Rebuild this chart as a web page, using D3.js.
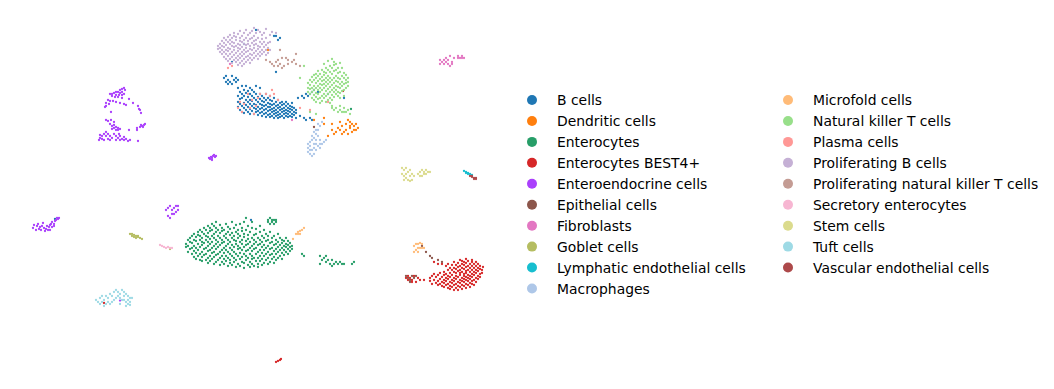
<!DOCTYPE html>
<html>
<head>
<meta charset="utf-8">
<script src="https://cdn.jsdelivr.net/npm/d3@7"></script>
<style>
    html, body { margin: 0; padding: 0; background: #fff; }
    svg { display: block; }
    text { font-family: "DejaVu Sans", sans-serif; font-size: 13.9px; fill: #000; }
</style>
</head>
<body>
<div id="chart"></div>
<script>
// categories, in legend order
const categories = ["B cells", "Dendritic cells", "Enterocytes", "Enterocytes BEST4+", "Enteroendocrine cells",
    "Epithelial cells", "Fibroblasts", "Goblet cells", "Lymphatic endothelial cells", "Macrophages",
    "Microfold cells", "Natural killer T cells", "Plasma cells", "Proliferating B cells",
    "Proliferating natural killer T cells", "Secretory enterocytes", "Stem cells", "Tuft cells",
    "Vascular endothelial cells"];
const palette = ["#1f77b4", "#ff7f0e", "#279e68", "#d62728", "#aa40fc", "#8c564b", "#e377c2", "#b5bd61", "#17becf",
    "#aec7e8", "#ffbb78", "#98df8a", "#ff9896", "#c5b0d5", "#c49c94", "#f7b6d2", "#dbdb8d", "#9edae5", "#ad494a"];

// embedding, flat umap1,umap2 lists
const bCells = [113,152,116,152,118,151,112,151,114,150,117,150,113,149,115,149,119,150,114,148,116,148,118,149,
    119,136.5,119,139,119,142,119,146,120,135,120,138,120,140.5,120,144,121,134,121,137,121,141,121,143,121,147,
    122,133.5,122,136,122,138.5,122,142,122,145,123,135,123,137.5,123,140,123,143.5,123,147,124,134,124,136.5,124,139,124,141.5,124,144.5,
    125,133,125,135.5,125,138,125,140,125,143,125,146,126,134.5,126,137,126,139.5,126,142,126,145,127,133,127,136,127,138,127,141,127,144,
    128,134,128,135.5,128,137.5,128,140,128,143,128,147,129,132.5,129,134.5,129,136.5,129,139,129,141.5,130,133.5,130,135.5,130,138,130,140.5,130,143,130,146,
    131,132,131,134,131,136,131,137.5,131,139.5,131,142,132,133,132,135,132,137,132,139,132,141,133,131.5,133,133.5,133,135.5,133,137.5,133,140,133,143,
    134,132.5,134,134.5,134,136.5,134,138.5,134,141,135,131.5,135,133,135,135,135,136.5,135,138,135,140,135,142,136,132,136,134,136,135.5,136,137.5,136,139.5,
    137,131,137,133,137,134.5,137,136,137,138,137,141,138,132,138,133.5,138,135,138,137,138,139,139,131,139,132.5,139,134,139,136,139,137.5,139,140,
    140,131.5,140,133,140,135,140,136.5,140,138.5,141,132,141,134,141,135.5,141,137.5,141,139,142,131,142,133,142,134.5,142,136,142,138,
    143,132,143,133.5,143,135,143,137,143,139,144,131.5,144,133,144,134.5,144,136,144,138,145,132,145,134,145,135.5,145,137,
    146,131.5,146,133,146,135,146,136.5,146,138.5,147,132.5,147,134,147,136,148,133.5,148,135,
    149,141,151,142,152,141,153,143,155,143,156,144,157,145,154,142,150,132,152,131,153,130,155,131,156,130,148,131,
    128,175,138,172,140,171,139,170,137,172,122,168,116,159,159,144,164,143,172,141,138,154,27.5,80.5,125.5,80];
const dendriticCells = [134,165,162,131,157,130,162,128,166,125,168,124,170,125,172,124,174,123,176,124,178,125,
    167,123,169,126,171,123,173,125,175,126,177,127,178,128,179,126,176,128,175,129,174,130,177,125,173,128,171,127,166,128,170,129,175,127,164,122];
const enterocytes = [123,81,134,80,135,81,136,80,137,80,138,80,134,79,136,79,138,79,135,78,137,78,
    93,66.5,93,68,94,64,94,67,94,70,95,65.5,95,69,95,71,96,63,96,66,96,68.5,96,72,97,61.5,97,64.5,97,67,97,70,97,73,98,60.5,98,63.5,98,66,98,69.5,98,71.5,
    99,62,99,65,99,68,99,72.5,99,74,100,60,100,63,100,66.5,100,70,100,72,100,75,101,59.5,101,61.5,101,64,101,67.5,101,69,101,71,101,74,
    102,62.5,102,65.5,102,68.5,102,73,102,76,103,60,103,63,103,66,103,70,103,72,103,75,104,58.5,104,61,104,64.5,104,67,104,69,104,71.5,104,73.5,104,77,
    105,59.5,105,62,105,65,105,68,105,70.5,105,74.5,105,76,106,60.5,106,63.5,106,66,106,69,106,72,106,75,106,78,107,58,107,61.5,107,64,107,67,107,71,107,73,107,77,
    108,59,108,62.5,108,65.5,108,68,108,70,108,74,108,76,108,79,109,60,109,63,109,66.5,109,69,109,72,109,75,110,57.5,110,61,110,64,110,67.5,110,71,110,73.5,110,77.5,
    111,59,111,62,111,65,111,68.5,111,70,111,74.5,111,76,112,58,112,60.5,112,63.5,112,66,112,69,112,72,112,75,113,59.5,113,62,113,65,113,67,113,71,113,73,113,78,
    114,57,114,61,114,64,114,68,114,70,114,74,114,76.5,115,58.5,115,60,115,63,115,66,115,69,115,72.5,115,75.5,116,57.5,116,62,116,65,116,67.5,116,71,116,73.5,116,79,
    117,59,117,61,117,64,117,66.5,117,70,117,72,117,76,118,56.5,118,60,118,63,118,68,118,69.5,118,74,118,77.5,119,58,119,62,119,65.5,119,67,119,71,119,73,119,75,
    120,57,120,60.5,120,63.5,120,66,120,69,120,72,120,78,121,59,121,61.5,121,65,121,68,121,70,121,74.5,121,76,122,56,122,58.5,122,63,122,66.5,122,71.5,122,73,122,79,
    123,60,123,62,123,64.5,123,67.5,123,69.5,123,75,124,57.5,124,61,124,65,124,68,124,70.5,124,72.5,124,77,125,56.5,125,59,125,63,125,66,125,69,125,74,
    126,58,126,60.5,126,62,126,64.5,126,67,126,71,126,76,126,79,127,57,127,61,127,65.5,127,68,127,70,127,72.5,128,59.5,128,63,128,66,128,69,128,73,128,75.5,
    129,56.5,129,58,129,61,129,64,129,67.5,129,71,130,59.5,130,62,130,65,130,68,130,70,130,74,130,77,131,57.5,131,60.5,131,63.5,131,66.5,131,69,131,72,
    132,58.5,132,62,132,65,132,67.5,132,71,132,75,133,60,133,63,133,66,133,69.5,133,73,134,58,134,61,134,64,134,67,134,70,134,72,
    135,59,135,62.5,135,65.5,135,68.5,135,74,136,60.5,136,63,136,66,136,69,136,71,137,58.5,137,61.5,137,64.5,137,67.5,137,72,138,60,138,63,138,65.5,138,68,138,70,
    139,61,139,64,139,66.5,139,69,139,73,140,62,140,65,140,67.5,140,71,141,60.5,141,63.5,141,66,141,68.5,141,70,142,62.5,142,65,142,67,142,69.5,
    143,64,143,66.5,143,68,143,71,144,63,144,65.5,144,67.5,144,69.5,145,64.5,145,66.5,145,68.5,146,65.5,146,67,
    151,63,152,62,160,62,161,60,162,61,163,59,164,60,165,58,166,60,167,58,168,59,169,58,170,59,171,58,172,58,163,62,166,57,160,58,176,58,177,59,175.5,135.5];
const enterocytesBest4 = [212,50,215,49.5,215,51,216,48,216,52,217,50,217,53,218,48.5,218,51.5,219,47.5,219,49.5,219,52.5,220,48,220,50.5,220,53.5,221,47,221,49,221,51.5,
    222,46.5,222,48.5,222,50,222,52.5,222,54,223,47.5,223,49.5,223,51,223,53,223,57,224,46,224,48,224,50.5,224,52,224,55,224,58,225,45.5,225,47,225,49,225,51.5,225,53.5,225,56,
    226,46.5,226,48.5,226,50,226,52.5,226,55,226,57.5,227,45,227,47.5,227,49.5,227,51,227,54,227,56,227,59,228,46,228,48,228,50.5,228,52,228,53.5,228,55.5,228,57.5,
    229,45,229,47,229,49,229,51.5,229,54.5,229,56.5,229,58.5,230,46.5,230,48.5,230,50,230,52.5,230,53.5,230,55,230,57,230,60,231,45.5,231,47.5,231,49.5,231,51,231,54,231,56,231,58,231,59.5,
    232,47,232,49,232,50.5,232,52,232,53,232,55.5,232,57.5,232,59,233,46,233,48,233,50,233,51.5,233,53.5,233,54.5,233,56.5,233,58.5,233,60.5,234,47.5,234,49.5,234,51,234,52.5,234,55,234,57,234,59.5,
    235,46.5,235,48.5,235,50.5,235,52,235,54,235,56,235,58,236,48,236,49.5,236,51.5,236,53,236,55,236,57,236,59,236,60,237,47.5,237,50,237,52.5,237,54,237,56,237,58,
    238,49,238,51,238,53.5,238,55,238,57,238,59,239,50.5,239,52,239,54.5,239,56,239,58,240,51.5,240,53,240,55.5,240,57,241,53.5,241,55,241.5,56.5,
    217,59,219,58,221,58,203,51,204,50,205,51,206,50,207,52,208,49,209,51,206,49,204,52,210,50,
    138,9,139,9.5,140,10,140.5,10.5,52,38.5,171.5,144.5];
const enteroendocrine = [62,146,61,145.5,62.5,145,60,145,61,144,59,144,60,143.5,58,144,57,143.5,56,143,55,143,58,142.5,59.5,142.5,61,142.5,62,143,56,142,57.5,141.5,59,141.5,61,141,
    54,140,55,139.5,56.5,139.5,53,138.5,54.5,138,53,137,52.5,136.5,58,139,60,138.5,62,138,63,137.5,55.5,134,64.5,140.5,66.5,138.5,
    69,137,69.5,135.5,70,135,70.5,133.5,68.5,126,70,126.5,71,127,72,127.5,72.5,128,70.5,127.5,71.5,126.5,
    53,130,54,129.5,55.5,130,57,129,55,128,56,127,57,127.5,58,126.5,59,126,57,126,59,125,58,125,56,125.5,
    50,121,51,122,52,123,53,124,54,123,55,122,53,122,51,120.5,49.5,120,52,120,54,120.5,56,121,57,123,55,120,50,122.5,
    58,122,59,121,60,122,61,120.5,62,120,63,120.5,64,119.5,60,120,65,120,62,121.5,58,120,60,125.5,64.5,125,68.5,125,59.5,123,69,119.5,
    104.5,111,105,110.5,105.5,111.5,106,111,106.5,112,107,112.5,107.5,111.5,108,112,106,110,
    16.5,76,17,77.5,18,75,18.5,77,19,78,19.5,75.5,20,76.5,20.5,75,21,77,21.5,78.5,22,76,22.5,74.5,23,75.5,23.5,77,24,75,24.5,76.5,25,77.5,25,75,
    25.5,78,26,79,26,76.5,27,78,27.5,79.5,28,80,28.5,81,29,80.5,29.5,81,27,77,
    84,86,86,85,88,84,85,87,87,86,89,85,83,85,89,87,86,83,84,82,85,81,88,87,87,83,
    60,39.7];
const epithelialCells = [204,51,205,50,203,52,206,52,207,51,205,49,208,52,211,67,213,64,215,62,216,61,219,60,221,59,157,126.5];
const fibroblasts = [220,160,221,159,222,160,223,161,224,160,225,162,226,159,227,161,224,158,225,157,226,158,223,159,222,158,
    229,162,231,162,232,161,229,161,230,161,231,161,220,158,146,130,115,158];
const gobletCells = [65,73,66,73,67,72.5,68,72,69,71.5,70,71,71,70.5,67,71.5,68,71,69,72,66,72,85,65.5];
const lymphaticEndothelial = [232,104.5,233,104,234,103.5,235,103,233,103.5,234,103,236,102.5];
const macrophages = [159,128,154,114,155,113,156,112,157,113,155,115,156,115,158,115,157,116,159,117,161,118,162,119,163,120,160,116,158,118,
    160,118,155,117,157,118,154,116,155,119,156,120,158,120,160,120,157,121,159,122,158,123,157,124,158,125,160,127,156,122,159,125,161,129,154,118];
const microfoldCells = [207,67,208,68,209,68,210,68.5,211,68,209,66,210,66,211,66,208,65,207,64,209,64,212,66,
    148,73,149,74,150,74.5,151,75,152,76,149,73,150,73,146.5,70.5];
const naturalKillerT = [154,144,154,146,154,148.5,155,143,155,145.5,155,147.5,155,150,156,141,156,144,156,146,156,149,156,151.5,157,140,157,142.5,157,145,157,147,157,150,157,152.5,
    158,139,158,141.5,158,143.5,158,146,158,148.5,158,151,158,153,159,140.5,159,143,159,145,159,147,159,149.5,159,152,159,154.5,160,138.5,160,141,160,144,160,146,160,148,160,150.5,160,153,
    161,139.5,161,142,161,145,161,147.5,161,149.5,161,151.5,161,155,162,141,162,143,162,146,162,148,162,150,162,152.5,162,154,162,158,163,139,163,142,163,144.5,163,147,163,149,163,151,163,153.5,163,156,
    164,140,164,143,164,145.5,164,148,164,150,164,152,164,155,164,159.5,165,138.5,165,141,165,144,165,146.5,165,149,165,151,165,154,165,157,166,140,166,142.5,166,145,166,147.5,166,150,166,153,166,156,166,160.5,
    167,141.5,167,144,167,146,167,148.5,167,151,167,154.5,167,157.5,167,159,168,143,168,145,168,147,168,149.5,168,152,168,155,168,158,169,142,169,144,169,146.5,169,149,169,151,169,153.5,169,156,
    170,141,170,143.5,170,146,170,148,170,150.5,170,154,170,158.5,171,144.5,171,147,171,149,171,152,171,156,172,142,172,145,172,148,172,151,172,153.5,173,146,173,148.5,173,150,173,152.5,174,147,174,149,174,151,
    166,137,168,136,170,135,172,136,174,135,167,135,169,134,171,134,173,134,175,133,170,137,172,134,166,136,
    152,157,150,151,155,134,158,133];
const plasmaCells = [124,143,126,140,122,138,128,137,130,143,125,136,120,139,129,141,133,143,135,142,137,143,121,134,114,156,116,157,150,136,155,135,164,139,
    127,133,119,136,136,145,139,140];
const proliferatingB = [109,165.5,109,167,110,164,110,166,110,168,111,163,111,165,111,167,111,169.5,112,161.5,112,164,112,166.5,112,168.5,112,171,113,160.5,113,163,113,165,113,167.5,113,170,
    114,159.5,114,162,114,164.5,114,166,114,169,114,171.5,115,160.5,115,163,115,165.5,115,168,115,170,115,172.5,116,158.5,116,161.5,116,164,116,167,116,169,116,171,
    117,160,117,162.5,117,165,117,166.5,117,168.5,117,172,117,173.5,118,159,118,161,118,163.5,118,167,118,170,118,171.5,119,157.5,119,160,119,162,119,164.5,119,166,119,168,119,173,
    120,158.5,120,161,120,163,120,165.5,120,167.5,120,169.5,120,171,120,174.5,121,157,121,159.5,121,162,121,164,121,166.5,121,169,121,172,122,158,122,160.5,122,163,122,165,122,168,122,170,122,173.5,
    123,159,123,161.5,123,164,123,166,123,167.5,123,171,123,175,124,160,124,162,124,164.5,124,168,124,169.5,124,172.5,125,158.5,125,161,125,163,125,165.5,125,167,125,170.5,125,173.5,
    126,160,126,162.5,126,165,126,168.5,126,171,126,174.5,127,161,127,163.5,127,166,127,167.5,127,169.5,127,172,127,176,128,162,128,164.5,128,168,128,170,128,173.5,
    129,160.5,129,163,129,165.5,129,167,129,171,129,175,130,162,130,164,130,166.5,130,169,130,174,131,163,131,165,131,168,131,170.5,131,172.5,132,164,132,166.5,132,169,132,173.5,
    133,162.5,133,165,133,167.5,133,171,133,175.5,134,163.5,134,166,134,168.5,135,165,135,169,135,172.5,136,174,138,173.5];
const proliferatingNk = [140,165,133,160,136,158,138,159,139,160,141,161,143,161,144,160,146,159,148,158,142,157,140,158,137,157,141,156,144,158,147,160,150,157,148,163,135,159,139,157];
const secretoryEnterocytes = [80,67.5,81,67,84,66.5,85,66,86,66,83,66,82,66.5];
const stemCells = [201,106,202,105,203,106,204,104,205,105,201,103,202,102,203,103,205,102,206,103,203,101,204,100,206,100,207,102,205,99.5,202,100,
    210,104,211,105,212,103,213,105,214,104,209,103,211,102,213,103,210,102,212,104,215,104];
const tuftCells = [48,40,49,39,50,41,51,39,52,40,53,42,54,41,55,43,56,42,57,44,58,45,59,44,60,43,61,45,62,44,63,43,64,42,65,41,66,41,62,42,64,40,61,40,63,39,64,38,65,37.5,
    57,40,58,41,59,42,54,39,55,38,53,38,52,37,60,38,50,38,51,42,56,39,60,41,62,40,65,39,63,37];
const vascularEndothelial = [235,102,236,101.5,237,101,238,100.5,236,102,237,100.5,238,101];

const clusters = [bCells, dendriticCells, enterocytes, enterocytesBest4, enteroendocrine, epithelialCells, fibroblasts,
    gobletCells, lymphaticEndothelial, macrophages, microfoldCells, naturalKillerT, plasmaCells, proliferatingB,
    proliferatingNk, secretoryEnterocytes, stemCells, tuftCells, vascularEndothelial];

const svg = d3.select("#chart").append("svg").attr("width", 1054).attr("height", 389);

// no axes are shown, the embedding just gets mapped onto the plot area
const xScale = d3.scaleLinear().domain([0, 260]).range([0, 520]);
const yScale = d3.scaleLinear().domain([0, 190]).range([380, 0]);
const color = d3.scaleOrdinal().domain(categories).range(palette);

// flatten the lists to one record per cell
const cells = [];
clusters.forEach((list, i) => {
    for (let k = 0; k < list.length; k += 2) {
        cells.push({ category: categories[i], umap1: list[k], umap2: list[k + 1] });
    }
});

svg.append("g").selectAll("circle")
    .data(cells)
    .join("circle")
    .attr("cx", d => xScale(d.umap1))
    .attr("cy", d => yScale(d.umap2))
    .attr("r", 1.15)
    .attr("fill", d => color(d.category));

// Legend, two columns of ten and nine rows
const perColumn = 10;
const rowScale = d3.scalePoint().domain(d3.range(perColumn)).range([100, 288.5]);
const columnScale = d3.scalePoint().domain([0, 1]).range([532, 788]);

const legend = svg.append("g").selectAll("g")
    .data(categories)
    .join("g")
    .attr("transform", (d, i) => `translate(${columnScale(Math.floor(i / perColumn))},${rowScale(i % perColumn)})`);

legend.append("circle")
    .attr("r", 5)
    .attr("fill", d => color(d));

legend.append("text")
    .attr("x", 25)
    .attr("dy", "0.36em")
    .text(d => d);
</script>
</body>
</html>
